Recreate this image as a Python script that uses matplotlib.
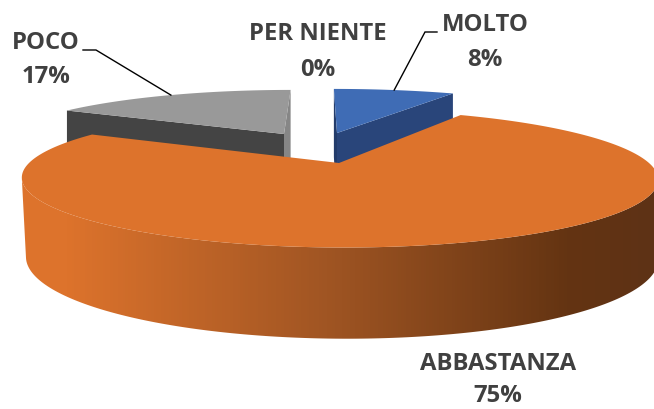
#!/usr/bin/env python
# 3D looking pie chart, drawn by hand because matplotlib has no 3D pie
import numpy as np
import matplotlib
matplotlib.use("Agg")
import matplotlib.pyplot as plt
from matplotlib.patches import Polygon
from matplotlib.colors import LinearSegmentedColormap

categories = ["MOLTO", "ABBASTANZA", "POCO", "PER NIENTE"]
values = [8, 75, 17, 0]

# perspective of the picture
PERSP = 0.225
VANISH_X = 320
TEXT_COLOR = "#404040"
TEXT_SIZE = 17.2

plt.rcParams["font.family"] = ["Open Sans", "DejaVu Sans"]


def rim(theta, apex, radius, height):
    """
    theta is degrees clockwise from 12 o'clock
    returns the pixel positions of the rim for a slice with its tip at apex
    """
    t = np.radians(theta)
    u, v = np.sin(t), -np.cos(t)
    s = 1 / (1 - PERSP * v)
    x = VANISH_X + (apex[0] - VANISH_X + radius * u) * s
    y = apex[1] + height * v * s
    return np.column_stack([x, y])


def arc(start, end, apex, radius, height):
    return rim(np.linspace(start, end, 240), apex, radius, height)


def small_slice(ax, start, end, apex, radius, height, depth, top, side, cut):
    """Draws one of the two pulled out slices at the back"""
    low = (apex[0], apex[1] + depth)
    a = rim(start, apex, radius, height)[0]
    b = rim(end, apex, radius, height)[0]
    a_low = a + [0, depth * 0.85]
    b_low = b + [0, depth * 0.85]
    ax.add_patch(Polygon([apex, b, b_low, low], color=side if start < 90 else cut, lw=0))
    ax.add_patch(Polygon([apex, a, a_low, low], color=cut if start < 90 else side, lw=0))
    ax.add_patch(Polygon(np.vstack([[apex], arc(start, end, apex, radius, height)]), color=top, lw=0))


def leader(ax, points):
    xs, ys = zip(*points)
    ax.plot(xs, ys, color="black", lw=1.0, solid_joinstyle="miter")


def main():
    fig = plt.figure(figsize=(6.54, 4.1), dpi=100)
    ax = fig.add_axes([0, 0, 1, 1])

    edges = np.concatenate([[0], np.cumsum(values)]) * 3.6
    mids = (edges[:-1] + edges[1:]) / 2

    blue = {"apex": (337, 134), "radius": 295, "height": 54}
    grey = {"apex": (284, 135), "radius": 279, "height": 54}
    orange = {"apex": (339, 164), "radius": 310, "height": 65.5}
    orange_low = {"apex": (341, 241), "radius": 308, "height": 76.5}

    small_slice(ax, edges[0], edges[1], blue["apex"], blue["radius"], blue["height"], 80,
                "#3F6CB5", "#29457A", "#233C6B")
    small_slice(ax, edges[2], edges[3], grey["apex"], grey["radius"], grey["height"], 80,
                "#999999", "#444444", "#868686")

    # big slice: side wall with a left to right shading, then the top
    # the wall is only seen between the two points where the rim turns back
    turn = np.degrees(np.arccos(-PERSP))
    upper = arc(edges[1], edges[2], **orange)
    wall_up = arc(turn, 360 - turn, **orange)
    wall_low = arc(turn, 360 - turn, **orange_low)
    wall = Polygon(np.vstack([wall_low, wall_up[::-1]]), transform=ax.transData, fc="none", lw=0)
    ax.add_patch(wall)
    shade = LinearSegmentedColormap.from_list("shade", [
        (0.0, "#DD732C"), (0.10, "#DD732C"), (0.50, "#A05523"),
        (0.87, "#643412"), (1.0, "#5E3216")])
    img = ax.imshow(np.linspace(0, 1, 654).reshape(1, -1), cmap=shade, extent=(0, 654, 410, 0),
                    aspect="auto", zorder=2)
    img.set_clip_path(wall)
    ax.add_patch(Polygon(np.vstack([[orange["apex"]], upper]), color="#DD732C", lw=0, zorder=3))

    # leader lines go to the middle of the slice rim
    molto_end = rim(mids[0], blue["apex"], blue["radius"], blue["height"])[0]
    poco_end = rim(mids[2], grey["apex"], grey["radius"], grey["height"])[0]
    leader(ax, [(437, 33), (425, 33), molto_end])
    leader(ax, [(83, 51), (96, 51), poco_end])

    label_pos = [(485, 25, 60), (498, 364, 396), (46, 43, 77), (318, 34, 70)]
    for name, value, (x, y1, y2) in zip(categories, values, label_pos):
        ax.text(x, y1, name, ha="center", va="center", fontsize=TEXT_SIZE, fontweight="bold",
                color=TEXT_COLOR, zorder=5)
        ax.text(x, y2, f"{value}%", ha="center", va="center", fontsize=TEXT_SIZE, fontweight="bold",
                color=TEXT_COLOR, zorder=5)

    ax.set_xlim(0, 654)
    ax.set_ylim(410, 0)
    ax.axis("off")
    fig.savefig("out.png", dpi=100, facecolor="white")


if __name__ == "__main__":
    main()
